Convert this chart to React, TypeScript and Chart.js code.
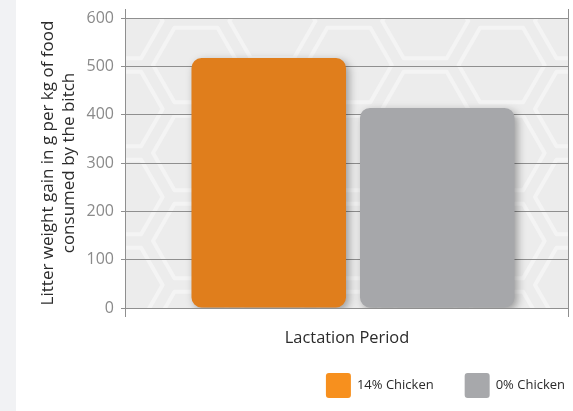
import React, { useEffect, useRef } from 'react';
import { Chart, registerables } from 'chart.js';

Chart.register(...registerables);

const categories = ['Lactation Period'];
const seriesNames = ['14% Chicken', '0% Chicken'];
const chicken14 = [517];
const chicken0 = [414];
const yTickValues = [0, 100, 200, 300, 400, 500, 600];
const yTitle = ['Litter weight gain in g per kg of food', 'consumed by the bitch'];

const FONT = '"Open Sans", "DejaVu Sans", sans-serif';
const barColors = ['#e07e1c', '#a6a7aa'];
const legendColors = ['#f7901e', '#a7a8ab'];
const gridColor = '#8f8f8f';

const plotBackground = {
  id: 'plotBackground',
  beforeDraw(chart: any) {
    const { ctx, chartArea: a } = chart;
    ctx.save();
    ctx.fillStyle = '#ececec';
    ctx.fillRect(a.left, a.top, a.right - a.left, a.bottom - a.top);
    ctx.beginPath();
    ctx.rect(a.left, a.top, a.right - a.left, a.bottom - a.top);
    ctx.clip();
    ctx.strokeStyle = '#f4f4f4';
    ctx.lineWidth = 4;
    ctx.lineJoin = 'round';
    const r = 43;
    const dx = 76.4;
    const dy = 88;
    const cx0 = a.left + 71;
    const cy0 = a.top + 47;
    for (let i = -3; i < 10; i++) {
      const off = ((i % 2) + 2) % 2 === 1 ? dy / 2 : 0;
      for (let j = -2; j < 6; j++) {
        const cx = cx0 + i * dx;
        const cy = cy0 + j * dy + off;
        ctx.beginPath();
        for (let k = 0; k < 6; k++) {
          const ang = (Math.PI / 3) * k;
          const px = cx + r * Math.cos(ang);
          const py = cy + r * Math.sin(ang);
          if (k === 0) ctx.moveTo(px, py);
          else ctx.lineTo(px, py);
        }
        ctx.closePath();
        ctx.stroke();
      }
    }
    ctx.restore();
  },
};

const frameLines = {
  id: 'frameLines',
  afterDraw(chart: any) {
    const { ctx, chartArea: a } = chart;
    ctx.save();
    ctx.strokeStyle = gridColor;
    ctx.lineWidth = 1;
    const xs = [Math.round(a.left) + 0.5, Math.round(a.right) - 0.5];
    xs.forEach((x) => {
      ctx.beginPath();
      ctx.moveTo(x, a.top - 9);
      ctx.lineTo(x, a.bottom + 9);
      ctx.stroke();
    });
    ctx.restore();
  },
};

// the bar group sits slightly right of the category centre in the reference
const groupShift = {
  id: 'groupShift',
  afterLayout(chart: any) {
    const x = chart.scales.x;
    if (x) x._startPixel += 6;
  },
};

const barShadow = {
  id: 'barShadow',
  beforeDatasetsDraw(chart: any) {
    const { ctx } = chart;
    ctx.save();
    ctx.shadowColor = 'rgba(0,0,0,0.35)';
    ctx.shadowBlur = 8;
    ctx.shadowOffsetX = 3;
    ctx.shadowOffsetY = 3;
  },
  afterDatasetsDraw(chart: any) {
    chart.ctx.restore();
  },
};

const customLegend = {
  id: 'customLegend',
  afterDraw(chart: any) {
    const { ctx } = chart;
    ctx.save();
    ctx.font = `13px ${FONT}`;
    ctx.textBaseline = 'middle';
    ctx.textAlign = 'left';
    const y = 385.5;
    let x = 565;
    const ds = chart.data.datasets;
    for (let i = ds.length - 1; i >= 0; i--) {
      const text = ds[i].label;
      const w = ctx.measureText(text).width;
      const tx = x - w;
      ctx.fillStyle = '#2b2b2b';
      ctx.fillText(text, tx, y);
      const bx = tx - 6 - 25;
      ctx.fillStyle = legendColors[i];
      ctx.beginPath();
      ctx.roundRect(bx, y - 12.5, 25, 25, 3);
      ctx.fill();
      x = bx - 31;
    }
    ctx.restore();
  },
};

export default function App() {
  const ref = useRef<HTMLCanvasElement>(null);
  useEffect(() => {
    if (!ref.current) return;
    const chart = new Chart(ref.current, {
      type: 'bar',
      data: {
        labels: categories,
        datasets: [
          {
            label: seriesNames[0],
            data: chicken14,
            backgroundColor: barColors[0],
            borderRadius: 10,
            borderSkipped: false,
          },
          {
            label: seriesNames[1],
            data: chicken0,
            backgroundColor: barColors[1],
            borderRadius: 10,
            borderSkipped: false,
          },
        ],
      },
      options: {
        animation: false,
        responsive: false,
        maintainAspectRatio: false,
        events: [],
        layout: { padding: { left: 37, top: 18, right: 4, bottom: 0 } },
        datasets: {
          bar: { categoryPercentage: 0.759, barPercentage: 0.917 },
        },
        plugins: {
          legend: { display: false },
          tooltip: { enabled: false },
        },
        scales: {
          x: {
            grid: { display: false, drawTicks: false },
            border: { display: false },
            ticks: { display: false },
            title: {
              display: true,
              text: categories[0],
              color: '#2b2b2b',
              font: { family: FONT, size: 16.4, lineHeight: 1.2 },
              padding: { top: 0, bottom: 63 },
            },
            afterFit: (s: any) => {
              s.height = 103;
            },
          },
          y: {
            min: 0,
            max: 600,
            afterBuildTicks: (s: any) => {
              s.ticks = yTickValues.map((v) => ({ value: v }));
            },
            ticks: {
              color: '#8a8a8a',
              font: { family: FONT, size: 16 },
              padding: 7,
            },
            grid: { color: gridColor, tickLength: 4, lineWidth: 1 },
            border: { display: true, color: gridColor },
            title: {
              display: true,
              text: yTitle,
              color: '#2b2b2b',
              font: { family: FONT, size: 17, lineHeight: 1.265 },
              padding: { top: 0, bottom: 0 },
            },
            afterFit: (s: any) => {
              s.width = 88;
            },
          },
        },
      },
      plugins: [plotBackground, groupShift, barShadow, frameLines, customLegend],
    });
    return () => chart.destroy();
  }, []);

  return (
    <div
      style={{
        position: 'fixed',
        left: 0,
        top: 0,
        width: 573,
        height: 411,
        background: 'linear-gradient(to right, #f1f2f4 0px, #f1f2f4 16px, #ffffff 16px)',
      }}
    >
      <canvas ref={ref} width={573} height={411} style={{ display: 'block' }} />
    </div>
  );
}
